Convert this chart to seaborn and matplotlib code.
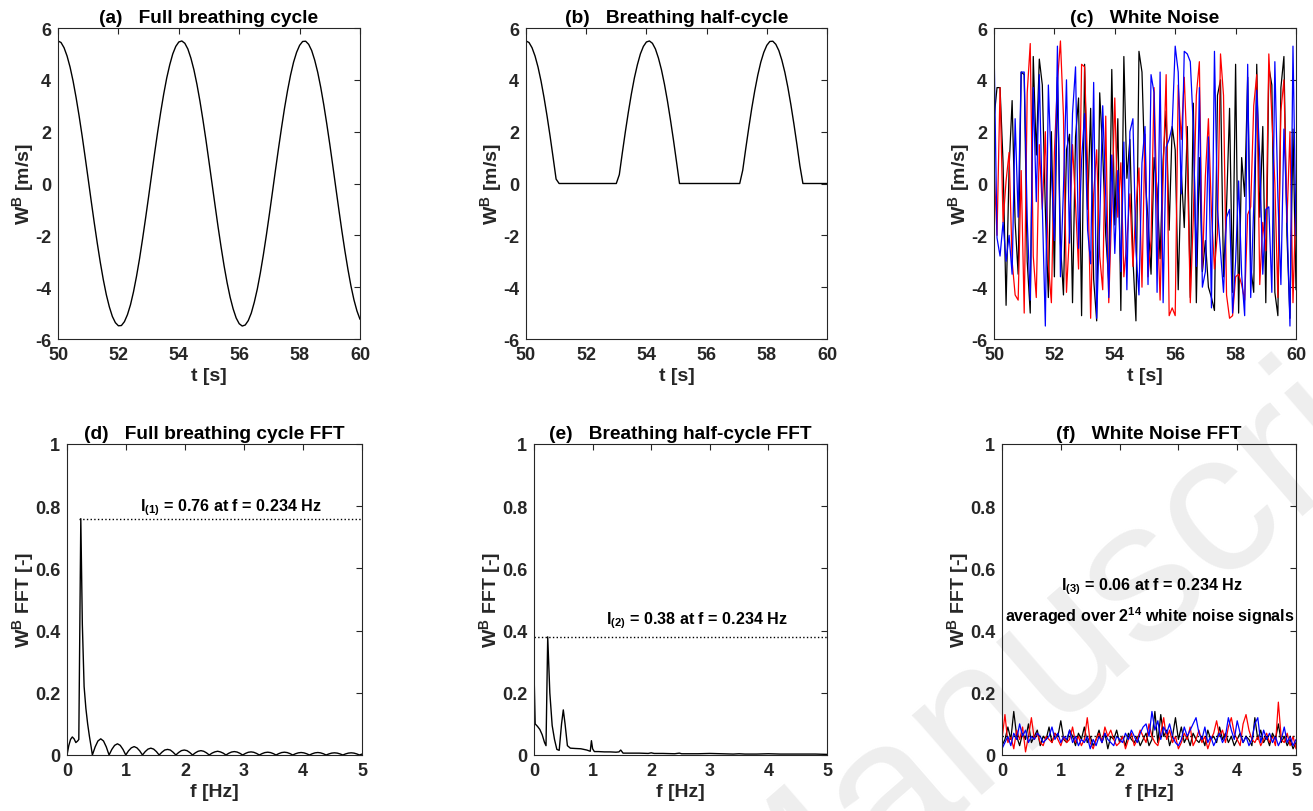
import numpy as np
import pandas as pd
import matplotlib
matplotlib.use("Agg")
import matplotlib.pyplot as plt
import seaborn as sns

# ---------------- data ----------------
t_full = [50.0, 50.1, 50.2, 50.3, 50.4, 50.5, 50.6, 50.7, 50.8, 50.9,
          51.0, 51.1, 51.2, 51.3, 51.4, 51.5, 51.6, 51.7, 51.8, 51.9,
          52.0, 52.1, 52.2, 52.3, 52.4, 52.5, 52.6, 52.7, 52.8, 52.9,
          53.0, 53.1, 53.2, 53.3, 53.4, 53.5, 53.6, 53.7, 53.8, 53.9,
          54.0, 54.1, 54.2, 54.3, 54.4, 54.5, 54.6, 54.7, 54.8, 54.9,
          55.0, 55.1, 55.2, 55.3, 55.4, 55.5, 55.6, 55.7, 55.8, 55.9,
          56.0, 56.1, 56.2, 56.3, 56.4, 56.5, 56.6, 56.7, 56.8, 56.9,
          57.0, 57.1, 57.2, 57.3, 57.4, 57.5, 57.6, 57.7, 57.8, 57.9,
          58.0, 58.1, 58.2, 58.3, 58.4, 58.5, 58.6, 58.7, 58.8, 58.9,
          59.0, 59.1, 59.2, 59.3, 59.4, 59.5, 59.6, 59.7, 59.8, 59.9, 60.0]
w_full = [5.50, 5.44, 5.24, 4.92, 4.49, 3.95, 3.31, 2.60, 1.83, 1.01,
          0.17, -0.68, -1.51, -2.30, -3.04, -3.71, -4.29, -4.76, -5.13, -5.37,
          -5.49, -5.48, -5.33, -5.06, -4.68, -4.18, -3.58, -2.90, -2.14, -1.34,
          -0.51, 0.34, 1.18, 1.99, 2.75, 3.45, 4.07, 4.58, 5.00, 5.29,
          5.46, 5.50, 5.41, 5.19, 4.84, 4.39, 3.83, 3.18, 2.45, 1.67,
          0.84, 0.00, -0.84, -1.67, -2.45, -3.18, -3.83, -4.39, -4.84, -5.19,
          -5.41, -5.50, -5.46, -5.29, -5.00, -4.58, -4.07, -3.45, -2.75, -1.99,
          -1.18, -0.34, 0.51, 1.34, 2.14, 2.90, 3.58, 4.18, 4.68, 5.06,
          5.33, 5.48, 5.49, 5.37, 5.13, 4.76, 4.29, 3.71, 3.04, 2.30,
          1.51, 0.68, -0.17, -1.01, -1.83, -2.60, -3.31, -3.95, -4.49, -4.92, -5.24]
w_half = [5.50, 5.44, 5.24, 4.92, 4.49, 3.95, 3.31, 2.60, 1.83, 1.01,
          0.17, 0.0, 0.0, 0.0, 0.0, 0.0, 0.0, 0.0, 0.0, 0.0,
          0.0, 0.0, 0.0, 0.0, 0.0, 0.0, 0.0, 0.0, 0.0, 0.0,
          0.0, 0.34, 1.18, 1.99, 2.75, 3.45, 4.07, 4.58, 5.00, 5.29,
          5.46, 5.50, 5.41, 5.19, 4.84, 4.39, 3.83, 3.18, 2.45, 1.67,
          0.84, 0.00, 0.0, 0.0, 0.0, 0.0, 0.0, 0.0, 0.0, 0.0,
          0.0, 0.0, 0.0, 0.0, 0.0, 0.0, 0.0, 0.0, 0.0, 0.0,
          0.0, 0.0, 0.51, 1.34, 2.14, 2.90, 3.58, 4.18, 4.68, 5.06,
          5.33, 5.48, 5.49, 5.37, 5.13, 4.76, 4.29, 3.71, 3.04, 2.30,
          1.51, 0.68, 0.0, 0.0, 0.0, 0.0, 0.0, 0.0, 0.0, 0.0, 0.0]

noise_black = [2.5, 3.7, 3.7, 0.8, -4.7, 0.6, 3.2, -1.5, -3.5, 4.3, 4.2, -3.0, -5.0, 4.9, 1.1, 4.8, 3.8, -1.0,
               -4.4, 2.0, -3.6, 4.1, -2.3, -4.3, 1.3, 1.9, -4.6, 1.8, 3.3, -5.1, 4.6, -1.0, 2.9, -3.7, -5.3,
               3.5, 1.2, -2.0, -3.8, 4.4, -1.6, 2.5, -4.9, 4.9, 0.2, 1.7, -2.9, -5.3, 5.1, 4.3, 0.3, -1.4,
               -3.5, 1.0, -0.2, -2.9, 0.9, 2.8, -1.8, 2.2, 1.3, -4.1, 0.5, -1.7, 2.2, -4.4, 3.1, -4.6, 1.0,
               -3.4, -2.2, -4.0, -4.4, -4.9, 3.4, 4.0, -3.6, -0.9, 2.9, -4.2, 4.6, -5.0, 1.0, -0.5, 4.1, -3.2,
               -4.2, 4.6, -1.3, 2.2, -4.6, 4.5, 3.8, -4.2, -5.1, 3.7, 4.9, -2.0, -5.2, 2.1, -4.1]
noise_red = [0.7, -2.0, 3.7, -1.5, 0.1, 1.2, -3.0, -4.3, -4.5, 0.5, -5.0, 3.5, 5.4, -2.8, -4.4, 1.5, -1.0, 2.0,
             -3.1, -4.6, 1.2, 3.9, 5.5, 2.6, -4.2, -1.9, 1.5, -0.8, -3.3, 4.6, 4.5, 0.6, -5.2, -0.4, 1.3, -2.8,
             -4.1, 2.6, -4.6, -0.9, 3.3, -1.3, 0.8, -3.6, -2.2, -0.4, -3.2, -0.9, 0.6, -4.0, 1.9, -3.6, -2.2,
             3.7, -1.0, -4.5, 0.3, 4.2, -5.1, -4.8, -5.1, 3.8, 1.7, 4.1, 1.0, -4.6, -1.3, 3.4, 4.7, -3.3, 0.3,
             2.5, -1.1, -3.3, -1.9, 5.0, 3.4, -4.3, -5.2, -5.1, -3.6, -3.5, -3.9, -4.5, -1.2, -0.9, 3.0, 4.2,
             -3.9, -1.5, -2.6, 5.0, 2.6, 0.0, -4.4, 2.8, 4.0, -1.5, 2.0, -4.6, -0.5]
noise_blue = [5.4, -2.1, -2.8, -1.5, -3.0, -2.0, -3.5, 2.5, -1.3, 4.3, 4.3, -1.4, -4.5, 3.7, -0.7, 4.2, -0.9,
              -5.5, 3.8, 0.5, -2.2, 5.3, -3.6, -0.2, 4.0, -2.3, 2.7, 4.5, -2.5, 0.9, 2.7, -1.8, -3.1, 3.9, -5.2,
              -1.5, 3.0, -0.5, -4.4, 1.1, -2.7, 0.5, -3.4, 1.6, -4.1, 2.0, 2.5, -2.6, -4.3, 0.8, 2.2, -3.9, 4.2,
              3.5, -4.2, 4.3, -4.6, 1.4, 1.7, 2.2, 5.3, 4.3, -0.4, 5.1, 5.0, 4.7, 2.2, -3.2, 3.7, -4.0, -3.4,
              1.8, -4.8, 5.1, -1.0, -2.6, -4.2, -1.3, -1.0, -5.0, -3.0, 0.1, -3.5, -5.1, 4.6, -4.4, -0.9, 3.6,
              1.0, -3.5, -1.0, -0.9, -4.2, 4.7, -0.5, -3.9, 2.1, -1.2, -5.5, 5.3, -2.0]

f_full = [0.0, 0.03, 0.06, 0.09, 0.12, 0.15, 0.18, 0.20, 0.234, 0.26, 0.29, 0.32, 0.35, 0.38, 0.41,
          0.430, 0.477, 0.524, 0.572, 0.619, 0.666,
          0.713, 0.760, 0.807, 0.855, 0.902, 0.949,
          0.996, 1.043, 1.090, 1.138, 1.185, 1.232,
          1.279, 1.326, 1.373, 1.421, 1.468, 1.515,
          1.562, 1.609, 1.656, 1.704, 1.751, 1.798,
          1.845, 1.892, 1.939, 1.987, 2.034, 2.081,
          2.128, 2.175, 2.222, 2.270, 2.317, 2.364,
          2.411, 2.458, 2.505, 2.553, 2.600, 2.647,
          2.694, 2.741, 2.788, 2.836, 2.883, 2.930,
          2.977, 3.024, 3.071, 3.119, 3.166, 3.213,
          3.260, 3.307, 3.354, 3.402, 3.449, 3.496,
          3.543, 3.590, 3.637, 3.685, 3.732, 3.779,
          3.826, 3.873, 3.920, 3.968, 4.015, 4.062,
          4.109, 4.156, 4.203, 4.251, 4.298, 4.345,
          4.392, 4.439, 4.486, 4.534, 4.581, 4.628,
          4.675, 4.722, 4.769, 4.817, 4.864, 4.911,
          4.958, 5.000]
fft_full = [0.0, 0.03, 0.05, 0.058, 0.052, 0.04, 0.045, 0.05, 0.76, 0.42, 0.22, 0.15, 0.10, 0.06, 0.025,
            0.0, 0.026, 0.045, 0.052, 0.045, 0.026,
            0.0, 0.018, 0.031, 0.036, 0.031, 0.018,
            0.0, 0.0135, 0.023, 0.027, 0.023, 0.0135,
            0.0, 0.011, 0.019, 0.022, 0.019, 0.011,
            0.0, 0.009, 0.016, 0.018, 0.016, 0.009,
            0.0, 0.008, 0.014, 0.016, 0.014, 0.008,
            0.0, 0.007, 0.012, 0.014, 0.012, 0.007,
            0.0, 0.006, 0.010, 0.012, 0.010, 0.006,
            0.0, 0.0055, 0.0095, 0.011, 0.0095, 0.0055,
            0.0, 0.005, 0.0087, 0.010, 0.0087, 0.005,
            0.0, 0.0045, 0.0078, 0.009, 0.0078, 0.0045,
            0.0, 0.0045, 0.0078, 0.009, 0.0078, 0.0045,
            0.0, 0.004, 0.0069, 0.008, 0.0069, 0.004,
            0.0, 0.004, 0.0069, 0.008, 0.0069, 0.004,
            0.0, 0.0035, 0.0061, 0.007, 0.0061, 0.0035,
            0.0, 0.0035, 0.0061, 0.007, 0.0061, 0.0035,
            0.0, 0.003]

f_half = [0.0, 0.02, 0.06, 0.10, 0.14, 0.18, 0.205, 0.234, 0.27, 0.31, 0.35, 0.39, 0.43, 0.47, 0.50, 0.53,
          0.57, 0.62, 0.70, 0.80, 0.90, 0.96, 0.98, 1.00, 1.03, 1.10, 1.20, 1.30, 1.40, 1.45, 1.48, 1.52,
          1.60, 1.80, 1.95, 2.00, 2.05, 2.20, 2.40, 2.48, 2.52, 2.60, 2.80, 3.00, 3.20, 3.40, 3.50, 3.60,
          3.80, 4.00, 4.20, 4.50, 4.80, 5.00]
fft_half = [0.27, 0.10, 0.092, 0.082, 0.065, 0.04, 0.03, 0.38, 0.20, 0.095, 0.05, 0.018, 0.015, 0.10, 0.145,
            0.10, 0.03, 0.022, 0.021, 0.02, 0.016, 0.012, 0.046, 0.02, 0.011, 0.011, 0.010, 0.010, 0.009,
            0.010, 0.016, 0.006, 0.006, 0.006, 0.005, 0.007, 0.005, 0.005, 0.004, 0.006, 0.004, 0.004,
            0.004, 0.005, 0.004, 0.003, 0.004, 0.003, 0.003, 0.004, 0.003, 0.003, 0.003, 0.002]

fftn_black = [0.03, 0.05, 0.09, 0.05, 0.14, 0.06, 0.03, 0.07, 0.05, 0.10, 0.04, 0.06, 0.08, 0.03, 0.06, 0.05,
              0.09, 0.04, 0.07, 0.06, 0.11, 0.05, 0.04, 0.08, 0.06, 0.03, 0.07, 0.05, 0.09, 0.04, 0.06, 0.03,
              0.05, 0.08, 0.04, 0.07, 0.02, 0.06, 0.05, 0.08, 0.04, 0.06, 0.03, 0.07, 0.05, 0.04, 0.06, 0.03,
              0.05, 0.07, 0.03, 0.05, 0.14, 0.04, 0.13, 0.06, 0.08, 0.03, 0.06, 0.12, 0.05, 0.09, 0.04, 0.06,
              0.03, 0.07, 0.05, 0.04, 0.06, 0.03, 0.08, 0.05, 0.06, 0.04, 0.09, 0.05, 0.07, 0.04, 0.06, 0.03,
              0.05, 0.07, 0.04, 0.06, 0.05, 0.03, 0.12, 0.05, 0.08, 0.04, 0.06, 0.03, 0.07, 0.05, 0.10, 0.04,
              0.06, 0.03, 0.05, 0.02, 0.04]
fftn_red = [0.05, 0.13, 0.04, 0.06, 0.02, 0.08, 0.05, 0.09, 0.01, 0.06, 0.12, 0.05, 0.07, 0.04, 0.03, 0.06,
            0.05, 0.04, 0.07, 0.05, 0.03, 0.06, 0.04, 0.05, 0.09, 0.04, 0.06, 0.03, 0.05, 0.12, 0.04, 0.02,
            0.05, 0.07, 0.04, 0.09, 0.06, 0.08, 0.05, 0.03, 0.04, 0.06, 0.02, 0.05, 0.07, 0.03, 0.05, 0.08,
            0.06, 0.04, 0.10, 0.06, 0.04, 0.03, 0.07, 0.12, 0.05, 0.08, 0.04, 0.06, 0.02, 0.04, 0.07, 0.05,
            0.09, 0.03, 0.05, 0.08, 0.04, 0.06, 0.02, 0.05, 0.07, 0.11, 0.06, 0.08, 0.04, 0.09, 0.12, 0.07,
            0.05, 0.03, 0.10, 0.13, 0.08, 0.05, 0.04, 0.06, 0.03, 0.05, 0.07, 0.04, 0.06, 0.03, 0.17, 0.05,
            0.04, 0.07, 0.03, 0.06, 0.02]
fftn_blue = [0.02, 0.04, 0.06, 0.03, 0.07, 0.05, 0.10, 0.06, 0.08, 0.04, 0.06, 0.05, 0.07, 0.06, 0.04, 0.05,
             0.06, 0.09, 0.05, 0.07, 0.04, 0.06, 0.05, 0.08, 0.04, 0.06, 0.03, 0.05, 0.04, 0.06, 0.02, 0.05,
             0.03, 0.06, 0.04, 0.07, 0.05, 0.04, 0.03, 0.06, 0.05, 0.04, 0.07, 0.05, 0.08, 0.06, 0.04, 0.07,
             0.09, 0.10, 0.06, 0.14, 0.08, 0.11, 0.05, 0.09, 0.07, 0.10, 0.06, 0.04, 0.03, 0.05, 0.09, 0.06,
             0.08, 0.10, 0.12, 0.07, 0.05, 0.09, 0.04, 0.06, 0.03, 0.05, 0.07, 0.04, 0.06, 0.12, 0.08, 0.05,
             0.11, 0.07, 0.04, 0.06, 0.03, 0.05, 0.10, 0.12, 0.04, 0.08, 0.05, 0.07, 0.04, 0.06, 0.03, 0.05,
             0.09, 0.04, 0.06, 0.03, 0.05]

peak_full = 0.76
peak_half = 0.38
peak_noise = 0.06

titles = ["(a)   Full breathing cycle", "(b)   Breathing half-cycle", "(c)   White Noise",
          "(d)   Full breathing cycle FFT", "(e)   Breathing half-cycle FFT", "(f)   White Noise FFT"]

# ---------------- style ----------------
sns.set_theme(style="white")
plt.rcParams['font.family'] = ['Liberation Sans', 'DejaVu Sans']
plt.rcParams['font.weight'] = 'bold'
plt.rcParams['mathtext.fontset'] = 'custom'
plt.rcParams['mathtext.rm'] = 'Liberation Sans:bold'
plt.rcParams['mathtext.bf'] = 'Liberation Sans:bold'
plt.rcParams['mathtext.it'] = 'Liberation Sans:bold'
plt.rcParams['mathtext.default'] = 'regular'

GRAY = '#262626'
FS = 13.0      # tick labels
FSL = 14.0     # axis labels
FST = 13.8     # titles
FSA = 11.6     # annotations
fig = plt.figure(figsize=(13.13, 8.12), dpi=100)

# watermark (behind everything)
fig.text(1129 / 1313.0, 1 - 653 / 812.0, "Manuscript", fontsize=145, fontweight='normal', color='#eeeeee',
         rotation=41, rotation_mode='anchor', ha='center', va='baseline', zorder=-5)

W, H = 1313.0, 812.0
def box(l, top, r, bot):
    return [l / W, 1 - bot / H, (r - l) / W, (bot - top) / H]

pos = [box(58, 29, 360, 340), box(526, 29, 827, 340), box(994, 29, 1296, 340),
       box(67, 445, 362, 756), box(534, 445, 827, 756), box(1002, 445, 1296, 756)]
axes = [fig.add_axes(p) for p in pos]

def style(ax, top_row):
    ax.set_facecolor('none')
    for s in ax.spines.values():
        s.set_color(GRAY)
        s.set_linewidth(0.8)
    ax.tick_params(direction='in', top=True, right=True, length=4, width=0.8, colors=GRAY,
                   labelsize=FS, pad=5, labelcolor=GRAY)
    if top_row:
        ax.set_xlim(50, 60)
        ax.set_ylim(-6, 6)
        ax.set_xticks([50, 52, 54, 56, 58, 60])
        ax.set_xticklabels(['50', '52', '54', '56', '58', '60'], fontweight='bold')
        ax.set_yticks([-6, -4, -2, 0, 2, 4, 6])
        ax.set_yticklabels(['-6', '-4', '-2', '0', '2', '4', '6'], fontweight='bold')
        ax.set_xlabel('t [s]', fontsize=FSL, fontweight='bold', color=GRAY, labelpad=3)
        ax.set_ylabel(r'W$^{\mathbf{B}}$ [m/s]', fontsize=FSL, fontweight='bold', color=GRAY, labelpad=-1.0)
    else:
        ax.set_xlim(0, 5)
        ax.set_ylim(0, 1)
        ax.set_xticks([0, 1, 2, 3, 4, 5])
        ax.set_xticklabels(['0', '1', '2', '3', '4', '5'], fontweight='bold')
        ax.set_yticks([0, 0.2, 0.4, 0.6, 0.8, 1.0])
        ax.set_yticklabels(['0', '0.2', '0.4', '0.6', '0.8', '1'], fontweight='bold')
        ax.set_xlabel('f [Hz]', fontsize=FSL, fontweight='bold', color=GRAY, labelpad=3)
        ax.set_ylabel(r'W$^{\mathbf{B}}$ FFT [-]', fontsize=FSL, fontweight='bold', color=GRAY, labelpad=-1.0)

LW = 1.0
def line(ax, x, y, color, lw=LW):
    df = pd.DataFrame({'x': x, 'y': y})
    sns.lineplot(data=df, x='x', y='y', ax=ax, color=color, linewidth=lw,
                 estimator=None, sort=False, legend=False)

# (a)
line(axes[0], t_full, w_full, 'black')
# (b)
line(axes[1], t_full, w_half, 'black')
# (c)
line(axes[2], np.linspace(50, 60, len(noise_black)), noise_black, 'black', 0.9)
line(axes[2], np.linspace(50, 60, len(noise_red)), noise_red, '#ff0000', 0.9)
line(axes[2], np.linspace(50, 60, len(noise_blue)), noise_blue, '#0000ff', 0.9)
# (d)
line(axes[3], f_full, fft_full, 'black')
axes[3].plot([0.2, 5], [peak_full, peak_full], ls=':', color='black', lw=1.0)
axes[3].text(2.78, 0.788, r'I$_{(1)}$ = %.2f at f = 0.234 Hz' % peak_full, ha='center', va='baseline',
             fontsize=FSA, fontweight='bold', color='black')
# (e)
line(axes[4], f_half, fft_half, 'black')
axes[4].plot([0, 5], [peak_half, peak_half], ls=':', color='black', lw=1.0)
axes[4].text(2.78, 0.424, r'I$_{(2)}$ = %.2f at f = 0.234 Hz' % peak_half, ha='center', va='baseline',
             fontsize=FSA, fontweight='bold', color='black')
# (f)
line(axes[5], np.linspace(0, 5, len(fftn_black)), fftn_black, 'black', 0.9)
line(axes[5], np.linspace(0, 5, len(fftn_red)), fftn_red, '#ff0000', 0.9)
line(axes[5], np.linspace(0, 5, len(fftn_blue)), fftn_blue, '#0000ff', 0.9)
axes[5].plot([0, 5], [peak_noise, peak_noise], ls=':', color='black', lw=1.0)
axes[5].text(2.55, 0.534, r'I$_{(3)}$ = %.2f at f = 0.234 Hz' % peak_noise, ha='center', va='baseline',
             fontsize=FSA, fontweight='bold', color='black')
axes[5].text(2.52, 0.431, r'averaged over 2$^{14}$ white noise signals', ha='center', va='baseline',
             fontsize=FSA, fontweight='bold', color='black')

for i, ax in enumerate(axes):
    style(ax, i < 3)
    ax.set_title(titles[i], fontsize=FST, fontweight='bold', color='black', pad=4.5)

fig.savefig('out.png', dpi=100)
